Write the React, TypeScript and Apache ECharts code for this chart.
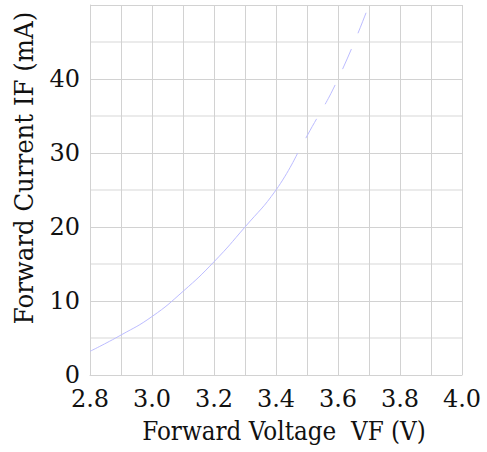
import React, { useEffect, useRef } from "react";
import * as echarts from "echarts";

const solidVoltage = [2.8, 2.9, 3.0, 3.1, 3.2, 3.3, 3.4, 3.47];
const solidCurrent = [3.2, 5.4, 7.9, 11.3, 15.3, 20.0, 25.0, 30.0];
const dashedVoltage = [3.47, 3.5, 3.6, 3.7];
const dashedCurrent = [30.0, 32.3, 40.0, 50.0];
const xTitle = "Forward Voltage  VF (V)";
const yTitle = "Forward Current IF (mA)";

const FONT = "DejaVu Serif";
const GRID = "#d2d2d2";
const CURVE = "#bcbcff";

export default function App() {
  const ref = useRef<HTMLDivElement>(null);
  useEffect(() => {
    const chart = echarts.init(ref.current!, undefined, { renderer: "svg" });
    chart.setOption({
      animation: false,
      backgroundColor: "#ffffff",
      grid: { left: 90, right: 25, top: 5, bottom: 77, containLabel: false },
      xAxis: {
        type: "value",
        min: 2.8,
        max: 4.0,
        interval: 0.2,
        axisLine: { show: true, lineStyle: { color: GRID, width: 1 } },
        axisTick: { show: false },
        axisLabel: {
          fontFamily: FONT,
          fontSize: 24,
          color: "#111",
          margin: 12,
          formatter: (v: number) => v.toFixed(1),
        },
        splitLine: { show: true, lineStyle: { color: GRID, width: 1 } },
        minorTick: { show: false, splitNumber: 2 },
        minorSplitLine: { show: true, lineStyle: { color: GRID, width: 1 } },
      },
      yAxis: {
        type: "value",
        min: 0,
        max: 50,
        interval: 10,
        axisLine: { show: true, lineStyle: { color: GRID, width: 1 } },
        axisTick: { show: false },
        axisLabel: {
          fontFamily: FONT,
          fontSize: 24,
          color: "#111",
          margin: 10,
          showMaxLabel: false,
          formatter: (v: number) => (v >= 50 ? "" : String(v)),
        },
        splitLine: { show: true, lineStyle: { color: GRID, width: 1 } },
        minorTick: { show: false, splitNumber: 2 },
        minorSplitLine: { show: true, lineStyle: { color: "#e4e4e4", width: 1.5 } },
      },
      series: [
        {
          type: "line",
          data: solidVoltage.map((v, i) => [v, solidCurrent[i]]),
          smooth: true,
          showSymbol: false,
          lineStyle: { color: CURVE, width: 1 },
        },
        {
          type: "line",
          data: dashedVoltage.map((v, i) => [v, dashedCurrent[i]]),
          smooth: true,
          showSymbol: false,
          lineStyle: { color: CURVE, width: 1, type: [22, 17], dashOffset: 22 },
        },
      ],
      graphic: [
        {
          type: "text",
          x: 284,
          y: 431,
          scaleX: 0.89,
          style: {
            text: xTitle,
            fontFamily: FONT,
            fontSize: 26,
            fill: "#111",
            textAlign: "center",
            textVerticalAlign: "middle",
          },
        },
        {
          type: "text",
          x: 24,
          y: 168,
          rotation: Math.PI / 2,
          scaleX: 0.94,
          style: {
            text: yTitle,
            fontFamily: FONT,
            fontSize: 26,
            fill: "#111",
            textAlign: "center",
            textVerticalAlign: "middle",
          },
        },
      ],
    });
    return () => chart.dispose();
  }, []);
  return <div ref={ref} style={{ width: 487, height: 452, position: "absolute", left: 0, top: 0 }} />;
}
